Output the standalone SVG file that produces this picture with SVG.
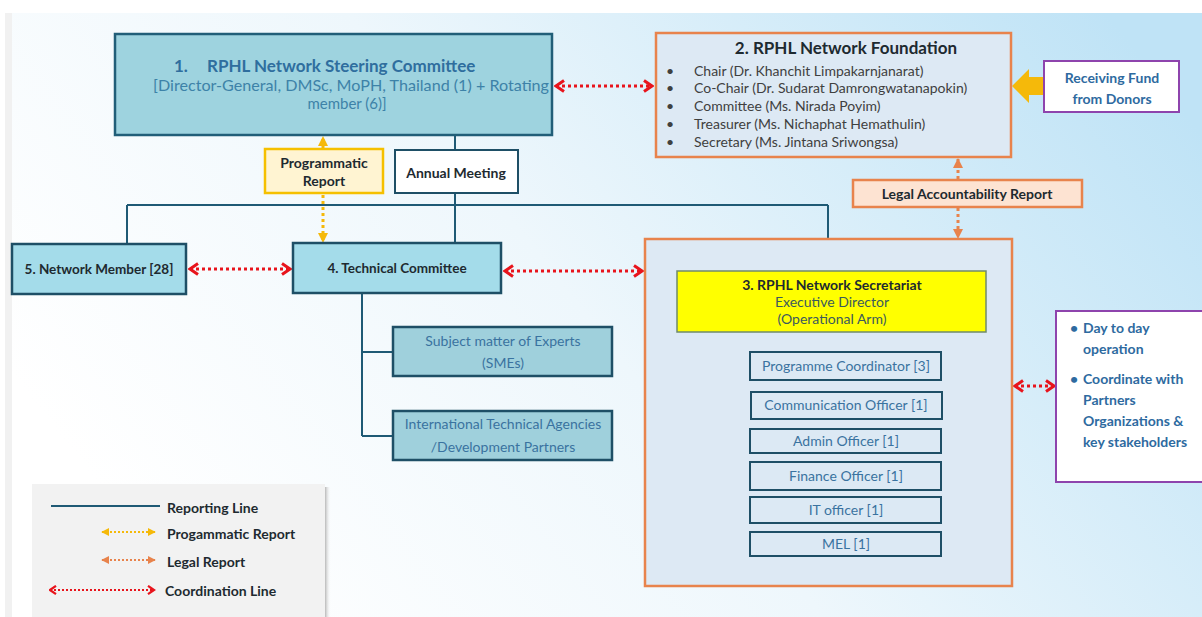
<svg xmlns="http://www.w3.org/2000/svg" width="1202" height="617" viewBox="0 0 1202 617">
<defs>
<linearGradient id="bg" x1="0" y1="0.6" x2="1" y2="0.2">
<stop offset="0" stop-color="#ffffff"/>
<stop offset="0.45" stop-color="#eef7fc"/>
<stop offset="1" stop-color="#bfe3f6"/>
</linearGradient>
<linearGradient id="shadow" x1="0" y1="0" x2="1" y2="0">
<stop offset="0" stop-color="#b8b8b8"/>
<stop offset="1" stop-color="#ffffff" stop-opacity="0"/>
</linearGradient>
<marker id="red" viewBox="0 0 12 14" refX="10" refY="7" markerWidth="12" markerHeight="14" markerUnits="userSpaceOnUse" orient="auto-start-reverse">
<path d="M2,1.5 L10,7 L2,12.5" fill="none" stroke="#e8141c" stroke-width="3"/>
</marker>
<marker id="redS" viewBox="0 0 12 14" refX="10" refY="7" markerWidth="9" markerHeight="11" markerUnits="userSpaceOnUse" orient="auto-start-reverse">
<path d="M2,1.5 L10,7 L2,12.5" fill="none" stroke="#e8141c" stroke-width="3"/>
</marker>
<marker id="yel" viewBox="0 0 10 10" refX="9" refY="5" markerWidth="10" markerHeight="10" markerUnits="userSpaceOnUse" orient="auto-start-reverse">
<path d="M0,0 L10,5 L0,10 Z" fill="#f5b90a"/>
</marker>
<marker id="org" viewBox="0 0 10 10" refX="9" refY="5" markerWidth="10" markerHeight="10" markerUnits="userSpaceOnUse" orient="auto-start-reverse">
<path d="M0,0 L10,5 L0,10 Z" fill="#e8834c"/>
</marker>
<marker id="yelS" viewBox="0 0 10 10" refX="9" refY="5" markerWidth="8" markerHeight="8" markerUnits="userSpaceOnUse" orient="auto-start-reverse">
<path d="M0,0 L10,5 L0,10 Z" fill="#f5b90a"/>
</marker>
<marker id="orgS" viewBox="0 0 10 10" refX="9" refY="5" markerWidth="8" markerHeight="8" markerUnits="userSpaceOnUse" orient="auto-start-reverse">
<path d="M0,0 L10,5 L0,10 Z" fill="#e8834c"/>
</marker>
</defs>
<style>
text{font-family:Lato,"Open Sans","Liberation Sans",sans-serif;}
.teal{fill:#9ed3df;stroke:#215e78;stroke-width:2.5;}
.teal2{fill:#a4dcea;stroke:#1e4f66;stroke-width:2.5;}
.sub{fill:#9fd0dc;stroke:#1e4f66;stroke-width:2.5;}
.orgbox{fill:#dde9f4;stroke:#e8834c;stroke-width:2.5;}
.child{fill:#dce9f4;stroke:#1e4f66;stroke-width:2;}
.purp{fill:#ffffff;stroke:#8e44ad;stroke-width:2;}
.rep{fill:none;stroke:#1f5a75;stroke-width:2;}
.coord{fill:none;stroke:#e8141c;stroke-width:3;stroke-dasharray:3 3;}
.ydot{fill:none;stroke:#f5b90a;stroke-width:3;stroke-dasharray:3 3;}
.odot{fill:none;stroke:#e8834c;stroke-width:3;stroke-dasharray:3 3;}
.b13{font-size:14px;font-weight:bold;fill:#1e2a30;}
.bn{font-size:13.5px;font-weight:bold;fill:#1e2a30;}
.blue13{font-size:14px;fill:#3a73a0;}
.bb13{font-size:14px;font-weight:bold;fill:#2e6aa0;}
.gr13{font-size:14px;fill:#404040;}
.mid{text-anchor:middle;}
</style>
<rect x="0" y="0" width="1202" height="617" fill="#ffffff"/>
<rect x="5" y="13" width="7" height="604" fill="#f1f1f1"/>
<rect x="12" y="13" width="1190" height="604" fill="url(#bg)"/>

<g id="connectors">
<path class="rep" d="M455,135 V150 M455,193 V243 M127,205 H828 M127,205 V244 M828,205 V239"/>
<path class="rep" d="M362,293 V436 M362,352 H393 M362,436 H393"/>
<path class="rep" d="M716,332 V544 M716,366 H750 M716,405 H751 M716,441 H750 M716,476 H750 M716,510 H750 M716,544 H750"/>
<line class="coord" x1="556" y1="86" x2="652" y2="86" marker-start="url(#red)" marker-end="url(#red)"/>
<line class="coord" x1="190" y1="269" x2="290" y2="269" marker-start="url(#red)" marker-end="url(#red)"/>
<line class="coord" x1="505" y1="271" x2="642" y2="271" marker-start="url(#red)" marker-end="url(#red)"/>
<line class="coord" x1="1015" y1="386" x2="1054" y2="386" marker-start="url(#red)" marker-end="url(#red)"/>
<line class="ydot" x1="323" y1="148" x2="323" y2="137" marker-end="url(#yel)"/>
<line class="ydot" x1="323" y1="195" x2="323" y2="242" marker-end="url(#yel)"/>
<line class="odot" x1="958" y1="179" x2="958" y2="159" marker-end="url(#org)"/>
<line class="odot" x1="958" y1="208" x2="958" y2="238" marker-end="url(#org)"/>
<path d="M1012,86 L1029,69 V77 H1044 V95 H1029 V103 Z" fill="#f5b90a"/>
</g>

<g id="node1">
<rect class="teal" x="115" y="34" width="437" height="101"/>
<text x="174" y="72" font-size="17" font-weight="bold" fill="#2f6e9e">1.</text>
<text x="207" y="72" font-size="17" font-weight="bold" fill="#2f6e9e">RPHL Network Steering Committee</text>
<text x="351" y="91" font-size="15" fill="#3d82a8" class="mid" textLength="396" lengthAdjust="spacingAndGlyphs">[Director-General, DMSc, MoPH, Thailand (1) + Rotating</text>
<text x="347" y="109" font-size="15" fill="#3d82a8" class="mid">member (6)]</text>
</g>

<g id="node2">
<rect class="orgbox" x="656" y="33" width="355" height="124"/>
<text x="846" y="54" font-size="17" font-weight="bold" fill="#1e2a30" class="mid">2. RPHL Network Foundation</text>
<text x="666" y="76" class="gr13">•</text><text x="694" y="76" class="gr13">Chair (Dr. Khanchit Limpakarnjanarat)</text>
<text x="666" y="93" class="gr13">•</text><text x="694" y="93" class="gr13">Co-Chair (Dr. Sudarat Damrongwatanapokin)</text>
<text x="666" y="111" class="gr13">•</text><text x="694" y="111" class="gr13">Committee (Ms. Nirada Poyim)</text>
<text x="666" y="129" class="gr13">•</text><text x="694" y="129" class="gr13">Treasurer (Ms. Nichaphat Hemathulin)</text>
<text x="666" y="147" class="gr13">•</text><text x="694" y="147" class="gr13">Secretary (Ms. Jintana Sriwongsa)</text>
</g>

<g id="donors">
<rect class="purp" x="1044" y="61" width="135" height="51"/>
<text x="1112" y="83" class="bb13 mid">Receiving Fund</text>
<text x="1112" y="104" class="bb13 mid">from Donors</text>
</g>

<g id="programmatic-report">
<rect x="265" y="149" width="118" height="44" fill="#fff4d2" stroke="#f5c000" stroke-width="2.5"/>
<text x="324" y="168" class="b13 mid">Programmatic</text>
<text x="324" y="186" class="b13 mid">Report</text>
</g>

<g id="annual-meeting">
<rect x="395" y="150" width="123" height="43" fill="#ffffff" stroke="#1e4f66" stroke-width="2"/>
<text x="456" y="178" class="b13 mid">Annual Meeting</text>
</g>

<g id="legal-report">
<rect x="853" y="180" width="229" height="27" fill="#fde3d2" stroke="#e8834c" stroke-width="2.5"/>
<text x="967" y="199" class="b13 mid">Legal Accountability Report</text>
</g>

<g id="node5">
<rect class="teal2" x="12" y="244" width="174" height="50"/>
<text x="99" y="274" class="bn mid">5. Network Member [28]</text>
</g>

<g id="node4">
<rect class="teal2" x="293" y="243" width="208" height="50"/>
<text x="397" y="273" class="bn mid">4. Technical Committee</text>
</g>

<g id="smes">
<rect class="sub" x="393" y="327" width="219" height="49"/>
<text x="503" y="346" class="blue13 mid">Subject matter of Experts</text>
<text x="503" y="368" class="blue13 mid">(SMEs)</text>
</g>

<g id="ita">
<rect class="sub" x="393" y="411" width="219" height="49"/>
<text x="503" y="429" class="blue13 mid">International Technical Agencies</text>
<text x="503" y="452" class="blue13 mid">/Development Partners</text>
</g>

<g id="node3">
<rect class="orgbox" x="645" y="239" width="367" height="347"/>
<rect x="677" y="271" width="309" height="61" fill="#ffff00" stroke="#6f8a6a" stroke-width="1.5"/>
<text x="832" y="290" class="b13 mid">3. RPHL Network Secretariat</text>
<text x="832" y="307" font-size="14" fill="#3b5a5e" class="mid">Executive Director</text>
<text x="832" y="324" font-size="14" fill="#3b5a5e" class="mid">(Operational Arm)</text>
</g>

<g id="programme-coordinator"><rect class="child" x="750" y="352" width="191" height="28"/><text x="846" y="371" class="blue13 mid">Programme Coordinator [3]</text></g>
<g id="communication-officer"><rect class="child" x="751" y="392" width="191" height="27"/><text x="846" y="410" class="blue13 mid">Communication Officer [1]</text></g>
<g id="admin-officer"><rect class="child" x="750" y="429" width="191" height="24"/><text x="846" y="446" class="blue13 mid">Admin Officer [1]</text></g>
<g id="finance-officer"><rect class="child" x="750" y="462" width="191" height="28"/><text x="846" y="481" class="blue13 mid">Finance Officer [1]</text></g>
<g id="it-officer"><rect class="child" x="750" y="497" width="191" height="26"/><text x="846" y="515" class="blue13 mid">IT officer [1]</text></g>
<g id="mel"><rect class="child" x="750" y="532" width="191" height="24"/><text x="846" y="549" class="blue13 mid">MEL [1]</text></g>

<g id="operations">
<rect class="purp" x="1056" y="311" width="150" height="171"/>
<text x="1070" y="333" class="bb13">•</text>
<text x="1083" y="333" class="bb13">Day to day</text>
<text x="1083" y="354" class="bb13">operation</text>
<text x="1070" y="384" class="bb13">•</text>
<text x="1083" y="384" class="bb13">Coordinate with</text>
<text x="1083" y="405" class="bb13">Partners</text>
<text x="1083" y="426" class="bb13">Organizations &amp;</text>
<text x="1083" y="447" class="bb13">key stakeholders</text>
</g>

<g id="legend">
<rect x="325" y="487" width="6" height="130" fill="url(#shadow)"/>
<rect x="32" y="484" width="293" height="133" fill="#f2f2f2"/>
<line x1="51" y1="506" x2="160" y2="506" stroke="#1f5a75" stroke-width="2"/>
<text x="167" y="513" class="b13">Reporting Line</text>
<line x1="102" y1="532" x2="155" y2="532" stroke="#f5b90a" stroke-width="2" stroke-dasharray="2 2" marker-start="url(#yelS)" marker-end="url(#yelS)"/>
<text x="167" y="539" class="b13">Progammatic Report</text>
<line x1="102" y1="560" x2="155" y2="560" stroke="#e8834c" stroke-width="2" stroke-dasharray="2 2" marker-start="url(#orgS)" marker-end="url(#orgS)"/>
<text x="167" y="567" class="b13">Legal Report</text>
<line x1="50" y1="590" x2="154" y2="590" stroke="#e8141c" stroke-width="2" stroke-dasharray="2 2" marker-start="url(#redS)" marker-end="url(#redS)"/>
<text x="165" y="596" class="b13">Coordination Line</text>
</g>
</svg>
